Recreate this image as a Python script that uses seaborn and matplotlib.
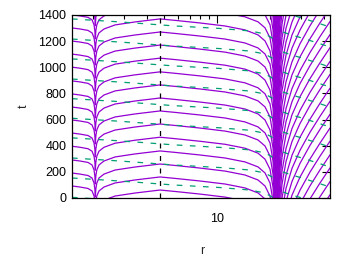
import numpy as np
import pandas as pd
import matplotlib
matplotlib.use('Agg')
import matplotlib.pyplot as plt
import matplotlib.ticker as mticker
import seaborn as sns

# purple characteristics left of the bundle: shape (r, t relative to the kink at r~4.76)
mid_r = [1.516, 1.682, 1.867, 1.967, 2.019, 2.041, 2.053, 2.067, 2.094, 2.154, 2.299, 2.653, 3.441, 4.764,
         5.79, 8.02, 11.1, 14.39, 17.04, 18.67, 19.93, 20.72, 21.27, 21.69, 21.89]
mid_dt = [-69, -77, -88, -107, -145, -191, -252, -191, -145, -107, -77, -46, -23, 0,
          -11, -31, -54, -84, -122, -168, -245, -383, -689, -1522, -3130]
kink_t = [-138, -38, 61, 161, 260, 360, 465, 566, 666, 765, 865, 965, 1070, 1170, 1270, 1370,
          1470, 1570, 1670, 1770, 1870, 1970, 2070, 2170, 2270, 2370, 2470, 2570, 2670, 2770, 2870, 2970]

# purple characteristics right of the bundle (t relative to where they hit r=43.5)
fan_r = [21.83, 21.92, 22.11, 22.55, 23.28, 24.54, 26.53, 29.44, 33.53, 38.19, 43.49]
fan_dt = [-3060, -1989, -1377, -1071, -842, -666, -513, -375, -237, -115, 0]
fan_t = [25, 125, 230, 330, 435, 535, 640, 740, 840, 945, 1045, 1150, 1250, 1350, 1455, 1555,
         1660, 1760, 1860, 1965, 2065, 2170, 2270, 2370, 2475, 2575, 2680, 2780, 2880, 2985,
         3085, 3190, 3290, 3390]

# green dashed curves
gl_r = [1.516, 2.83, 5.79, 10.4, 15.37, 18.67, 20.45, 21.54]
gl_dt = [0, -23, -54, -73, -92, -115, -145, -191]
gl_t = [1370, 1216, 1064, 910, 760, 610, 460, 306, 153, 5]
gr_r = [23.59, 25.84, 30.21, 36.26, 43.49]
gr_dt = [46, 27, 0, -34, -69]
gr_t = [1377, 1224, 1071, 918, 765, 612, 459, 306, 153, 0]

r_edge = 4.764

rows = []
for i, t0 in enumerate(kink_t):
    for r, dt in zip(mid_r, mid_dt):
        rows.append(('m%d' % i, r, t0 + dt))
for i, t0 in enumerate(fan_t):
    for r, dt in zip(fan_r, fan_dt):
        rows.append(('f%d' % i, r, t0 + dt))
purple = pd.DataFrame(rows, columns=['curve', 'r', 't'])

rows = []
for i, t0 in enumerate(gl_t):
    for r, dt in zip(gl_r, gl_dt):
        rows.append(('gl%d' % i, r, t0 + dt))
for i, t0 in enumerate(gr_t):
    for r, dt in zip(gr_r, gr_dt):
        rows.append(('gr%d' % i, r, t0 + dt))
green = pd.DataFrame(rows, columns=['curve', 'r', 't'])

sns.set_style('white')
plt.rcParams['font.family'] = ['Liberation Sans', 'DejaVu Sans']
plt.rcParams['font.size'] = 9

fig = plt.figure(figsize=(3.5, 2.62), dpi=100)
ax = fig.add_axes([72/350, 1-198/262, 258/350, 183/262])

sns.lineplot(data=purple, x='r', y='t', units='curve', estimator=None, sort=False,
             color='#9400d3', linewidth=0.9, ax=ax)
sns.lineplot(data=green, x='r', y='t', units='curve', estimator=None, sort=False,
             color='#009e73', linewidth=0.9, linestyle=(0, (4.5, 6)), ax=ax)
ax.plot([r_edge, r_edge], [0, 1400], color='black', linewidth=0.9, linestyle=(0, (4, 6)))

ax.set_xscale('log')
ax.set_xlim(1.516, 43.49)
ax.set_ylim(0, 1400)
ax.set_xticks([10])
ax.set_xticklabels(['10'])
ax.xaxis.set_minor_locator(mticker.LogLocator(base=10, subs=np.arange(2, 10)))
ax.xaxis.set_minor_formatter(mticker.NullFormatter())
ax.set_yticks(np.arange(0, 1401, 200))

ax.tick_params(which='both', direction='in', top=True, right=True, colors='black', width=0.8)
ax.tick_params(which='major', length=5.8)
ax.tick_params(which='minor', length=2.9)
ax.tick_params(axis='x', pad=11)
ax.tick_params(axis='y', pad=4)
for s in ax.spines.values():
    s.set_visible(True)
    s.set_color('black')
    s.set_linewidth(0.9)

ax.set_xlabel('r')
ax.set_ylabel('t')
ax.xaxis.set_label_coords(0.504, -0.255)
ax.yaxis.set_label_coords(-0.163, 0.5)

fig.savefig('out.png', dpi=100)
